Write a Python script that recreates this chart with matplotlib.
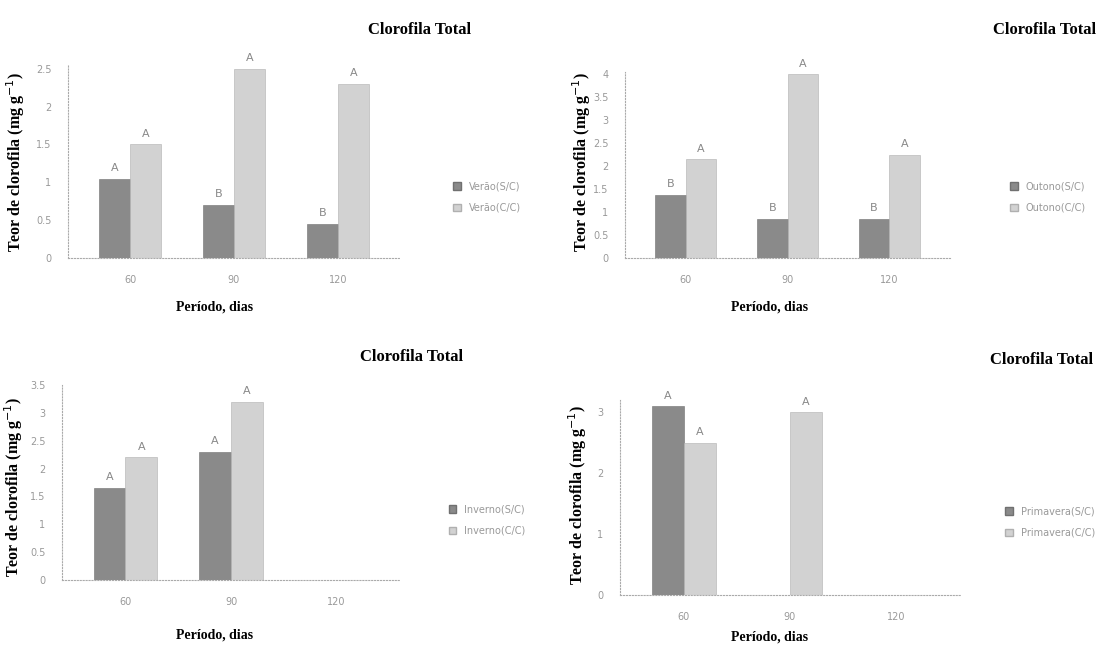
import numpy as np
import matplotlib.pyplot as plt
from matplotlib.patches import Patch

# periodos de avaliacao
periodos = ['60', '90', '120']

# teor de clorofila total (mg g-1) por estacao, sem cobertura (S/C) e com cobertura (C/C)
estacoes = ['Verão', 'Outono', 'Inverno', 'Primavera']
verao_sc = [1.05, 0.70, 0.45]
verao_cc = [1.50, 2.50, 2.30]
outono_sc = [1.38, 0.85, 0.85]
outono_cc = [2.15, 4.00, 2.25]
inverno_sc = [1.65, 2.30, np.nan]
inverno_cc = [2.20, 3.20, np.nan]
primavera_sc = [3.10, np.nan, np.nan]
primavera_cc = [2.50, 3.00, np.nan]

# letras do teste de medias
letras_verao = [('A', 'A'), ('B', 'A'), ('B', 'A')]
letras_outono = [('B', 'A'), ('B', 'A'), ('B', 'A')]
letras_inverno = [('A', 'A'), ('A', 'A'), ('', '')]
letras_primavera = [('A', 'A'), ('', 'A'), ('', '')]

# (inicio, topo do eixo, ultimo tick, passo)
ylims = [(0, 2.55, 2.5, 0.5), (0, 4.05, 4, 0.5), (0, 3.5, 3.5, 0.5), (0, 3.2, 3, 1)]

dados = [(verao_sc, verao_cc, letras_verao),
         (outono_sc, outono_cc, letras_outono),
         (inverno_sc, inverno_cc, letras_inverno),
         (primavera_sc, primavera_cc, letras_primavera)]

# posicao dos eixos em pixels (x0, y0, x1, y1) numa figura de 1102x648
W, H = 1102, 648
caixas = [(68, 65, 400, 258), (625, 72, 950, 258),
          (62, 385, 400, 580), (620, 400, 960, 595)]
titulos = [(420, 30), (1045, 30), (412, 357), (1042, 360)]
legendas = [(487, 197), (1048, 197), (487, 520), (1050, 522)]
xlabels = [(215, 307), (770, 307), (215, 635), (770, 637)]
ylabels = [(16, 162), (582, 162), (14, 487), (578, 495)]

cor_sc = '#8a8a8a'
cor_cc = '#d2d2d2'
serif = ['Liberation Serif', 'DejaVu Serif']

fig = plt.figure(figsize=(W / 100, H / 100), dpi=100)

for k, (sc, cc, letras) in enumerate(dados):
    x0, y0, x1, y1 = caixas[k]
    ax = fig.add_axes([x0 / W, 1 - y1 / H, (x1 - x0) / W, (y1 - y0) / H])
    x = np.arange(len(periodos))
    w = 0.3
    ax.bar(x - w / 2, sc, w, color=cor_sc, edgecolor='#707070', linewidth=0.4)
    ax.bar(x + w / 2, cc, w, color=cor_cc, edgecolor='#b0b0b0', linewidth=0.4)
    ymin, ytopo, ymax, passo = ylims[k]
    off = (ymax - ymin) * 0.03
    for i in range(len(periodos)):
        if not np.isnan(sc[i]) and letras[i][0]:
            ax.text(x[i] - w / 2, sc[i] + off, letras[i][0], ha='center',
                    va='bottom', fontsize=8, color='#888888', clip_on=False)
        if not np.isnan(cc[i]) and letras[i][1]:
            ax.text(x[i] + w / 2, cc[i] + off, letras[i][1], ha='center',
                    va='bottom', fontsize=8, color='#888888', clip_on=False)
    ax.set_ylim(ymin, ytopo)
    ticks = np.arange(ymin, ymax + passo / 2, passo)
    ax.set_yticks(ticks)
    ax.set_yticklabels([f'{v:g}' for v in ticks])
    ax.set_xlim(-0.6, 2.6)
    ax.set_xticks(x)
    ax.set_xticklabels(periodos)
    ax.tick_params(colors='#999999', labelsize=7, length=0, pad=12)
    for s in ['top', 'right']:
        ax.spines[s].set_visible(False)
    for s in ['left', 'bottom']:
        ax.spines[s].set_linestyle(':')
        ax.spines[s].set_color('#aaaaaa')

    px, py = ylabels[k]
    fig.text(px / W, 1 - py / H, 'Teor de clorofila (mg g$^{-1}$)', family=serif,
             fontweight='bold', fontsize=11.5, rotation=90, ha='center', va='center')
    tx, ty = titulos[k]
    fig.text(tx / W, 1 - ty / H, 'Clorofila Total', family=serif,
             fontweight='bold', fontsize=12, ha='center', va='center')
    lx, ly = xlabels[k]
    fig.text(lx / W, 1 - ly / H, 'Período, dias', family=serif,
             fontweight='bold', fontsize=10, ha='center', va='center')

    gx, gy = legendas[k]
    handles = [Patch(facecolor=cor_sc, edgecolor='#707070'),
               Patch(facecolor=cor_cc, edgecolor='#b0b0b0')]
    nomes = [estacoes[k] + '(S/C)', estacoes[k] + '(C/C)']
    fig.legend(handles, nomes, loc='center', bbox_to_anchor=(gx / W, 1 - gy / H),
               frameon=False, fontsize=7, labelcolor='#999999',
               handlelength=0.8, handleheight=0.8, labelspacing=1.2)

fig.savefig('out.png', dpi=100)
